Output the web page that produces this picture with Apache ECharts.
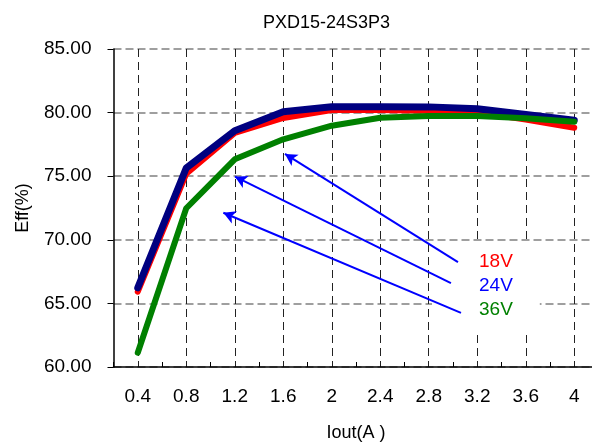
<!DOCTYPE html>
<html>
<head>
<meta charset="utf-8">
<script src="https://cdn.jsdelivr.net/npm/echarts@6/dist/echarts.min.js"></script>
<style>html,body{margin:0;padding:0;background:#fff;overflow:hidden;width:592px;height:448px;}#c{width:600px;height:448px;}</style>
</head>
<body>
<div id="c"></div>
<script>
const currents = [0.4, 0.8, 1.2, 1.6, 2.0, 2.4, 2.8, 3.2, 3.6, 4.0];
const xLabels = ['0.4', '0.8', '1.2', '1.6', '2', '2.4', '2.8', '3.2', '3.6', '4'];
const eff18V = [65.92, 75.2, 78.4, 79.58, 80.2, 80.2, 80.15, 80.02, 79.45, 78.81];
const eff24V = [66.23, 75.64, 78.58, 80.07, 80.46, 80.46, 80.45, 80.3, 79.85, 79.4];
const eff36V = [61.12, 72.48, 76.33, 77.9, 78.97, 79.6, 79.73, 79.73, 79.55, 79.28];
const seriesNames = ['18V', '24V', '36V'];
const seriesColors = ['#ff0000', '#000080', '#008000'];
const legendColors = ['#ff0000', '#0000ff', '#008000'];
// annotation arrows: [tail x, tail y, head x, head y] in data units
const arrows = [
  [3.041, 68.25, 1.614, 76.75],
  [2.983, 66.60, 1.202, 74.96],
  [3.066, 64.25, 1.106, 72.13]
];

const FONT = '"Liberation Sans", Arial, sans-serif';
const pairs = arr => currents.map((x, i) => [x, arr[i]]);
const effs = [eff18V, eff24V, eff36V];
const widths = [6, 7, 6];

const chart = echarts.init(document.getElementById('c'), null, {renderer: 'canvas'});
chart.setOption({
  animation: false,
  backgroundColor: '#fff',
  textStyle: {fontFamily: FONT},
  title: {
    text: 'PXD15-24S3P3',
    left: 263, top: 14, padding: 0,
    textStyle: {fontFamily: FONT, fontSize: 18, fontWeight: 'normal', color: '#000'}
  },
  legend: {
    orient: 'vertical',
    left: 432, top: 241,
    padding: [11, 27, 10, 42],
    backgroundColor: '#fff',
    selectedMode: false,
    icon: 'none',
    itemWidth: 0, itemHeight: 20, itemGap: 4,
    z: 1,
    textStyle: {fontFamily: FONT, fontSize: 19, lineHeight: 20},
    data: seriesNames.map((n, i) => ({name: n, textStyle: {color: legendColors[i]}}))
  },
  grid: {left: 113.5, top: 49, width: 485, height: 318, containLabel: false},
  xAxis: [{
    type: 'value', position: 'bottom',
    min: 0.2, max: 4.2, interval: 0.4,
    axisLine: {show: true, lineStyle: {color: '#000', width: 1.5}},
    axisTick: {show: true, inside: true, length: 5, lineStyle: {color: '#000'}},
    axisLabel: {show: false},
    splitLine: {show: false},
    minorTick: {show: false, splitNumber: 2},
    minorSplitLine: {show: true, lineStyle: {color: '#222', width: 1, type: [8, 5]}}
  }, {
    type: 'category', position: 'bottom', gridIndex: 0,
    data: xLabels, boundaryGap: true,
    axisLine: {show: false}, axisTick: {show: false}, splitLine: {show: false},
    axisLabel: {fontFamily: FONT, fontSize: 19, color: '#000', margin: 20},
    name: 'Iout(A )', nameLocation: 'middle', nameGap: 57,
    nameTextStyle: {fontFamily: FONT, fontSize: 18, color: '#000'}
  }],
  yAxis: {
    type: 'value', min: 60, max: 85, interval: 5,
    axisLine: {show: true, lineStyle: {color: '#000', width: 1.5}},
    axisTick: {show: true, inside: false, length: 6, lineStyle: {color: '#000'}},
    axisLabel: {fontFamily: FONT, fontSize: 19, color: '#000', margin: 22,
      formatter: v => v.toFixed(2)},
    splitLine: {show: true, lineStyle: {color: '#808080', width: 1.5, type: [8, 4]}},
    name: 'Eff(%)', nameLocation: 'middle', nameRotate: 90, nameGap: 81,
    nameTextStyle: {fontFamily: FONT, fontSize: 18, color: '#000'}
  },
  series: seriesNames.map((n, i) => ({
    name: n, type: 'line', xAxisIndex: 0, yAxisIndex: 0,
    data: pairs(effs[i]), symbol: 'none', z: 3 + i,
    lineStyle: {color: seriesColors[i], width: widths[i], cap: 'round', join: 'round'},
    itemStyle: {color: seriesColors[i]}
  })).concat([{
    name: 'arrows', type: 'line', xAxisIndex: 0, yAxisIndex: 0, data: [], z: 10,
    markLine: {
      silent: true, animation: false,
      symbol: ['none', 'arrow'], symbolSize: [10, 12],
      label: {show: false},
      lineStyle: {color: '#0000ff', width: 2, type: 'solid'},
      emphasis: {disabled: true},
      data: arrows.map(a => [{coord: [a[0], a[1]]}, {coord: [a[2], a[3]]}])
    }
  }])
});
</script>
</body>
</html>
